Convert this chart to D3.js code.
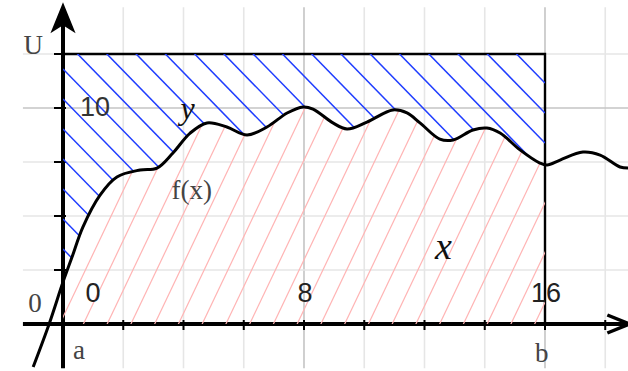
<!DOCTYPE html>
<html>
<head>
<meta charset="utf-8">
<script src="https://cdn.jsdelivr.net/npm/d3@7"></script>
<style>
	html, body { margin: 0; padding: 0; background: #fff; }
	svg { display: block; }
</style>
</head>
<body>
<svg id="chart" width="628" height="371"></svg>
<script>
// Area between a curve f(x), the x axis and the line U over [a, b]

// curve f(x)
var curveX = [-0.99, -0.46, 0, 0.30, 0.66, 1.23, 1.79, 2.56, 3.12, 3.65, 4.22, 4.78, 5.44, 6.11, 6.77, 7.44, 7.97, 8.30, 8.96, 9.43,
	10.09, 10.95, 11.42, 11.85, 12.51, 12.95, 13.61, 14.07, 14.51, 15.17, 15.83, 16.07, 16.50, 17.26, 17.83, 18.49, 18.76]
var curveY = [-1.99, 0, 1.94, 3.10, 4.49, 5.97, 6.81, 7.13, 7.22, 7.92, 8.84, 9.31, 9.12, 8.75, 9.12, 9.77, 10.05, 9.95, 9.31, 9.03,
	9.35, 9.91, 9.77, 9.31, 8.56, 8.52, 8.98, 9.07, 8.84, 8.06, 7.45, 7.36, 7.59, 7.96, 7.82, 7.27, 7.22]

// bounds
var boundA = 0
var boundB = 16
var boundU = 12.5

// ticks and labels
var xTickValues = [0, 2, 4, 6, 8, 10, 12, 14, 16, 18]
var yTickValues = [2.5, 5, 7.5, 10, 12.5]
var xLabelValues = [0, 8, 16]
var yLabelValues = [10]
var majorX = [0, 8, 16]
var majorY = [0, 10]

// visible window of the drawing
var viewX = [-1.33, 18.8]
var viewY = [-2.05, 14.8]

var svg = d3.select('#chart')

var x = d3.scaleLinear().domain([0, 16]).range([63, 545])
var y = d3.scaleLinear().domain([0, 10]).range([324, 108])

var points = curveX.map(function(v, i) { return [v, curveY[i]] })
var defs = svg.append('defs')

// grid
var grid = svg.append('g')
grid.selectAll('line.gx').data(d3.range(0, 18.01, 2))
	.enter().append('line')
	.attr('x1', function(d) { return x(d) }).attr('x2', function(d) { return x(d) })
	.attr('y1', y(viewY[1]) + 3).attr('y2', y(viewY[0]))
	.attr('stroke', function(d) { return majorX.indexOf(d) >= 0 ? '#c4c4c4' : '#e6e6e6' })
	.attr('stroke-width', 1.6)
grid.selectAll('line.gy').data(d3.range(0, 12.51, 2.5))
	.enter().append('line')
	.attr('y1', function(d) { return y(d) }).attr('y2', function(d) { return y(d) })
	.attr('x1', x(viewX[0])).attr('x2', x(viewX[1]) + 5)
	.attr('stroke', function(d) { return majorY.indexOf(d) >= 0 ? '#c4c4c4' : '#e6e6e6' })
	.attr('stroke-width', 1.6)

// clip paths: [a,b] strip, region under f, region between f and U
defs.append('clipPath').attr('id', 'strip')
	.append('rect')
	.attr('x', x(boundA)).attr('y', 0)
	.attr('width', x(boundB) - x(boundA)).attr('height', 371)

var line = d3.line()
	.x(function(d) { return x(d[0]) })
	.y(function(d) { return y(d[1]) })
	.curve(d3.curveCatmullRom.alpha(0.5))

var areaBelow = d3.area()
	.x(function(d) { return x(d[0]) })
	.y0(y(0))
	.y1(function(d) { return y(d[1]) })
	.curve(d3.curveCatmullRom.alpha(0.5))

var areaAbove = d3.area()
	.x(function(d) { return x(d[0]) })
	.y0(y(boundU))
	.y1(function(d) { return y(d[1]) })
	.curve(d3.curveCatmullRom.alpha(0.5))

defs.append('clipPath').attr('id', 'below').append('path').attr('d', areaBelow(points))
defs.append('clipPath').attr('id', 'above').append('path').attr('d', areaAbove(points))

// axes and frame
var axes = svg.append('g').attr('stroke', '#000').attr('fill', 'none')
axes.append('line')
	.attr('x1', x(viewX[0])).attr('x2', x(viewX[1]) - 2)
	.attr('y1', y(0)).attr('y2', y(0))
	.attr('stroke-width', 4)
axes.append('line')
	.attr('x1', x(0)).attr('x2', x(0))
	.attr('y1', y(viewY[0])).attr('y2', y(viewY[1]) + 4)
	.attr('stroke-width', 4)
axes.selectAll('line.tx').data(xTickValues)
	.enter().append('line')
	.attr('x1', function(d) { return x(d) }).attr('x2', function(d) { return x(d) })
	.attr('y1', y(0) - 4).attr('y2', y(0) + 6)
	.attr('stroke-width', 2)
axes.selectAll('line.ty').data(yTickValues)
	.enter().append('line')
	.attr('y1', function(d) { return y(d) }).attr('y2', function(d) { return y(d) })
	.attr('x1', x(0) - 9).attr('x2', x(0) + 3)
	.attr('stroke-width', 2)

// arrow heads
var xe = x(viewX[1]), ye = y(viewY[1])
axes.append('path')
	.attr('d', 'M' + (xe - 22) + ',' + (y(0) - 9) + 'L' + xe + ',' + y(0) + 'L' + (xe - 22) + ',' + (y(0) + 9))
	.attr('stroke-width', 3.5).attr('stroke-linejoin', 'miter')
axes.append('path')
	.attr('d', 'M' + x(0) + ',' + ye + 'L' + (x(0) + 11) + ',' + (ye + 27) + 'L' + x(0) + ',' + (ye + 20) +
		'L' + (x(0) - 11) + ',' + (ye + 27) + 'Z')
	.attr('fill', '#000').attr('stroke-width', 1.5)

// box a..b up to U
axes.append('path')
	.attr('d', 'M' + x(boundA) + ',' + y(boundU) + 'L' + x(boundB) + ',' + y(boundU) + 'L' + x(boundB) + ',' + y(0))
	.attr('stroke-width', 2.4)

// hatching: blue between f and U, pink between axis and f
var hatchAbove = svg.append('g').attr('clip-path', 'url(#strip)')
	.append('g').attr('clip-path', 'url(#above)')
var blueStep = 30, blueSlope = 1.025
hatchAbove.selectAll('line').data(d3.range(-20, 15))
	.enter().append('line')
	.attr('x1', x(boundA)).attr('x2', x(boundB))
	.attr('y1', function(k) { return y(boundU) + 15 + k * blueStep })
	.attr('y2', function(k) { return y(boundU) + 15 + k * blueStep + blueSlope * (x(boundB) - x(boundA)) })
	.attr('stroke', '#1f3dff').attr('stroke-width', 1.5)

var hatchBelow = svg.append('g').attr('clip-path', 'url(#strip)')
	.append('g').attr('clip-path', 'url(#below)')
var redStep = 23.75, redSlope = 2.1
hatchBelow.selectAll('line').data(d3.range(-2, 24))
	.enter().append('line')
	.attr('x1', function(k) { return x(boundA) + 19 + k * redStep })
	.attr('y1', y(0) + 3)
	.attr('x2', function(k) { return x(boundA) + 19 + k * redStep + 300 / redSlope })
	.attr('y2', y(0) + 3 - 300)
	.attr('stroke', '#ffb4b4').attr('stroke-width', 1.2)

// curve f(x)
svg.append('path')
	.attr('d', line(points))
	.attr('fill', 'none').attr('stroke', '#000')
	.attr('stroke-width', 3).attr('stroke-linejoin', 'round')

// labels
var sans = '"Liberation Sans", Arial, sans-serif'
var serif = '"Liberation Serif", "Times New Roman", serif'

svg.selectAll('text.xl').data(xLabelValues)
	.enter().append('text')
	.attr('x', function(d) { return d == 0 ? x(d) + 30 : x(d) + 1 })
	.attr('y', y(0) - 22)
	.attr('text-anchor', 'middle')
	.style('font-family', sans).style('font-size', '27px').attr('fill', '#222')
	.text(function(d) { return d })

svg.selectAll('text.yl').data(yLabelValues)
	.enter().append('text')
	.attr('x', x(0) + 17).attr('y', function(d) { return y(d) + 8 })
	.style('font-family', sans).style('font-size', '27px').attr('fill', '#333')
	.text(function(d) { return d })

var serifLabels = svg.append('g')
	.style('font-family', serif).style('font-size', '27px').attr('fill', '#444')
serifLabels.append('text').attr('x', x(0) - 20).attr('y', y(boundU)).attr('text-anchor', 'end').text('U')
serifLabels.append('text').attr('x', x(0) - 28).attr('y', y(0) - 12).attr('text-anchor', 'middle').text('0')
serifLabels.append('text').attr('x', x(boundA) + 10).attr('y', y(0) + 35).text('a')
serifLabels.append('text').attr('x', x(boundB) - 10).attr('y', y(0) + 38).text('b')
serifLabels.append('text').attr('x', x(3.6)).attr('y', y(5.8)).text('f(x)')

svg.append('text').attr('x', x(3.9)).attr('y', y(9.5))
	.style('font-family', serif).style('font-style', 'italic').style('font-size', '32px')
	.attr('fill', '#111').text('y')
svg.append('text').attr('x', x(12.35)).attr('y', y(3.0))
	.style('font-family', serif).style('font-style', 'italic').style('font-size', '38px')
	.attr('fill', '#111').text('x')
</script>
</body>
</html>
